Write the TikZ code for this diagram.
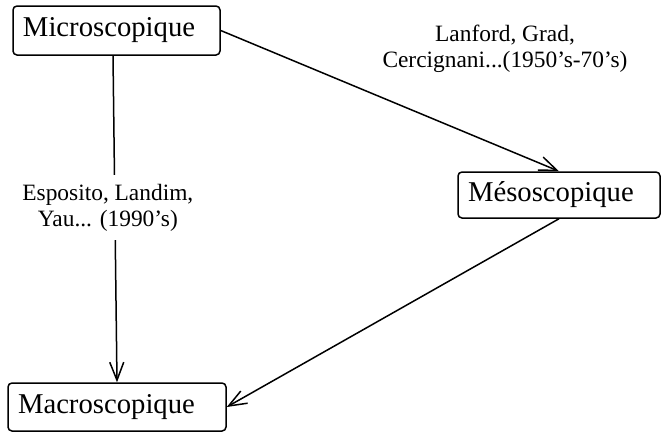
\documentclass[tikz,border=0pt]{standalone}
\usepackage{fontspec}
\setmainfont{Liberation Serif}
\usetikzlibrary{arrows.meta}
\begin{document}
\begin{tikzpicture}[x=1pt, y=-1pt,
		level/.style={draw, line width=1.5pt, rounded corners=4pt, inner xsep=10pt, inner ysep=0pt,
			minimum height=47pt, align=left, font=\fontsize{28.7}{33}\selectfont},
		who/.style={align=center, font=\fontsize{23.4}{26}\selectfont},
		link/.style={line width=1.5pt, -{Straight Barb[length=18pt, width=14pt, line width=1.5pt]}}]
		\useasboundingbox (0,0) rectangle (662,432);
		
		\node [level, text width=187pt, minimum height=49pt] (micro) at (116.5, 30.5) {Microscopique};
		\node [level, text width=182pt, minimum height=46pt] (meso) at (559, 195) {Mésoscopique};
		\node [level, text width=198pt, minimum height=48pt] (macro) at (117, 407) {Macroscopique};
		
		\node [who] (lanford) at (505, 49) {Lanford, Grad,\\Cercignani...(1950’s-70’s)};
		
		\draw [link] (micro.east) -- (meso.north);
		\draw [link] (meso.south) -- (macro.east);
		\draw [link] ([xshift=-3.5pt]micro.south) -- node [who, fill=white, pos=0.465, xshift=-7pt, inner ysep=9pt] (esposito) {Esposito, Landim,\\Yau... (1990’s)} (macro.north);
		
\end{tikzpicture}
\end{document}
